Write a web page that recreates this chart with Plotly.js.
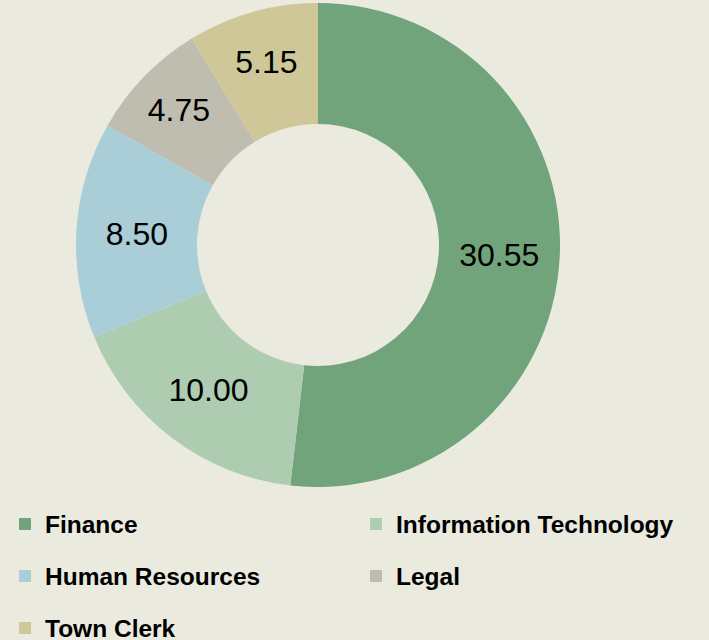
<!DOCTYPE html>
<html>
<head>
<meta charset="utf-8">
<script src="https://cdn.plot.ly/plotly-3.0.1.min.js"></script>
<style>html,body{margin:0;padding:0;background:#EBEADF;}#chart{width:709px;height:640px;}</style>
</head>
<body>
<div id="chart"></div>
<script>
var categories = ["Finance", "Information Technology", "Human Resources", "Legal", "Town Clerk"];
var values = [30.55, 10.00, 8.50, 4.75, 5.15];
var sliceColors = ["#71A47A", "#ADCCB0", "#A9CED8", "#BEBDAF", "#CFC797"];

var legendLabels = categories.map(function (c) {
  return '<span style="font-size:24.5px;baseline-shift:6px">' + c + '</span>';
});

var trace = {
  type: "pie",
  labels: legendLabels,
  values: values,
  sort: false,
  direction: "clockwise",
  rotation: 0,
  hole: 0.5,
  marker: { colors: sliceColors, line: { width: 0 } },
  texttemplate: "%{value:.2f}",
  textposition: "inside",
  insidetextorientation: "horizontal",
  textfont: { family: "Liberation Sans, Arial, sans-serif", size: 32, color: "#000000" },
  hoverinfo: "none",
  domain: { x: [76 / 709, 560 / 709], y: [1 - 487 / 640, 1 - 3 / 640] }
};

var layout = {
  width: 709,
  height: 640,
  margin: { l: 0, r: 0, t: 0, b: 0, autoexpand: false },
  paper_bgcolor: "#EBEADF",
  plot_bgcolor: "#EBEADF",
  showlegend: true,
  legend: {
    orientation: "h",
    x: 5 / 709,
    xanchor: "left",
    y: 1 - 493 / 640,
    yanchor: "top",
    entrywidth: 306,
    entrywidthmode: "pixels",
    bgcolor: "rgba(0,0,0,0)",
    font: { family: "Liberation Sans, Arial, sans-serif", size: 37.7, color: "#000000", weight: "bold" }
  }
};

Plotly.newPlot("chart", [trace], layout, { displayModeBar: false, staticPlot: true });
</script>
</body>
</html>
